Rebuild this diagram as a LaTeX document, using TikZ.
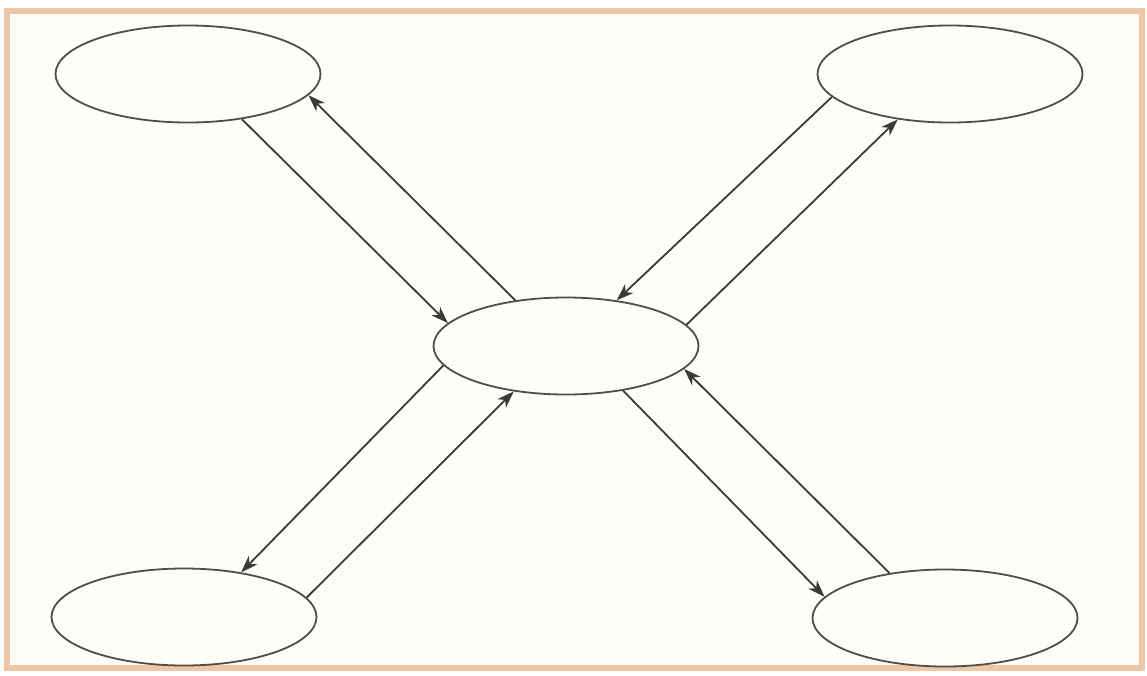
\documentclass[tikz,border=0pt]{standalone}
\usetikzlibrary{shapes.geometric,arrows.meta}
\definecolor{framecol}{HTML}{EFC6A6}
\definecolor{bgcol}{HTML}{FFFDF7}
\definecolor{inkcol}{HTML}{3A3A3A}
\begin{document}
\begin{tikzpicture}[x=1pt,y=-1pt,
  oval/.style={ellipse,draw=inkcol!90,line width=1.8pt,fill=bgcol,minimum width=265pt,minimum height=97pt,inner sep=0pt},
  link/.style={draw=inkcol,line width=1.8pt,-{Stealth[length=17pt,width=12pt,inset=5pt]}}]
\useasboundingbox (0,0) rectangle (1147,675);
\fill[white] (0,0) rectangle (1147,675);
\draw[framecol,line width=6pt,fill=bgcol] (7,11) rectangle (1142,668);
\node[oval] (tl) at (188,74) {};
\node[oval] (tr) at (950,74) {};
\node[oval] (c) at (566,346) {};
\node[oval] (bl) at (184,617) {};
\node[oval] (br) at (945,618) {};
% top-left pair
\draw[link] (tl.-40.3) -- (c.169.2);
\draw[link] (c.138) -- (tl.-10.8);
% top-right pair
\draw[link] (tr.191) -- (c.42.7);
\draw[link] (c.10.1) -- (tr.221.6);
% bottom-left pair
\draw[link] (c.189.5) -- (bl.38.8);
\draw[link] (bl.9.5) -- (c.221.4);
% bottom-right pair
\draw[link] (c.-38.9) -- (br.170.2);
\draw[link] (br.141.7) -- (c.-11.1);
\end{tikzpicture}
\end{document}
